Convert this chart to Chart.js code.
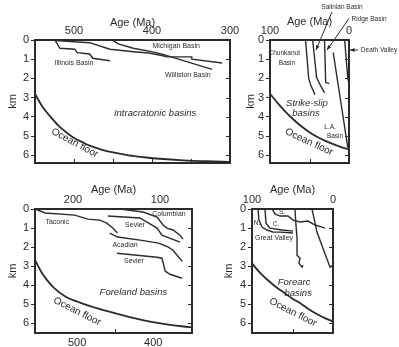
<!DOCTYPE html>
<html>
<head>
<meta charset="utf-8">
<script src="https://cdn.jsdelivr.net/npm/chart.js@4.4.1/dist/chart.umd.min.js"></script>
<style>
  html, body { margin: 0; padding: 0; background: #fff; width: 399px; height: 347px; overflow: hidden; }
  canvas { position: absolute; }
</style>
</head>
<body>
<canvas id="c1" width="240" height="175" style="left:0;top:0"></canvas>
<canvas id="c2" width="161" height="175" style="left:238px;top:0"></canvas>
<canvas id="c3" width="240" height="177" style="left:0;top:170px"></canvas>
<canvas id="c4" width="160" height="177" style="left:216px;top:170px"></canvas>
<script>
// ---- shared ----
const depthTicks = [0, 1, 2, 3, 4, 5, 6];

// ---- panel 1: intracratonic basins (Ma) ----
const p1AgeTicks = [500, 400, 300];
const ocean1Age = [550, 540, 530, 520, 510, 500, 490, 480, 465, 450, 430, 410, 390, 360, 330, 300];
const ocean1Depth = [2.8, 3.5, 4.0, 4.45, 4.8, 5.1, 5.3, 5.5, 5.7, 5.85, 6.0, 6.1, 6.18, 6.26, 6.31, 6.34];
const illinoisAge = [524, 518, 499, 496, 480, 476, 454];
const illinoisDepth = [0.03, 0.43, 0.48, 0.66, 0.73, 0.95, 1.08];
const michiganAge = [524, 480, 454, 424, 404, 386, 381, 349, 349, 310];
const michiganDepth = [0.03, 0.14, 0.48, 0.61, 0.68, 0.82, 0.88, 0.88, 1.0, 1.2];
const willistonAge = [450, 443, 424, 399, 386, 323];
const willistonDepth = [0.03, 0.2, 0.43, 0.62, 0.75, 1.53];

// ---- panel 2: strike-slip basins (Ma) ----
const p2AgeTicks = [100, 0];
const ocean2Age = [100, 90, 80, 70, 60, 50, 40, 30, 20, 10, 0];
const ocean2Depth = [2.8, 3.3, 3.75, 4.15, 4.5, 4.8, 5.05, 5.25, 5.42, 5.57, 5.7];
const chunkanutAge = [55, 51, 48, 43];
const chunkanutDepth = [0, 2.0, 2.4, 2.85];
const salinianAge = [46, 41, 37, 31];
const salinianDepth = [0, 1.95, 2.3, 2.75];
const ridgeAge = [31, 29.5, 25];
const ridgeDepth = [0, 2.2, 2.27];
const laAge = [20, 1.5];
const laDepth = [0.65, 5.6];
const deathValleyAge = [5.5, 1.5, 0];
const deathValleyDepth = [0, 2.0, 2.25];

// ---- panel 3: foreland basins (bottom axis Paleozoic, top axis Mesozoic) ----
const p3TopTicks = [200, 100];
const p3BottomTicks = [500, 400];
const ocean3Age = [555, 547, 540, 530, 515, 500, 490, 470, 447, 425, 404, 380, 360, 349];
const ocean3Depth = [2.7, 3.3, 3.7, 4.15, 4.6, 4.85, 5.0, 5.25, 5.5, 5.72, 5.9, 6.06, 6.16, 6.2];
const taconicAge = [555, 542, 503, 486, 470, 461, 453, 447];
const taconicDepth = [0, 0.21, 0.32, 0.53, 0.58, 0.74, 1.0, 1.26];
const acadianAge = [457, 447, 417, 393, 380, 374, 362];
const acadianDepth = [1.26, 1.47, 1.63, 1.79, 2.0, 2.16, 2.74];
const columbianAge = [146, 119.5, 103.4, 96.5, 92, 85, 77, 73.6];
const columbianDepth = [0, 0.16, 0.42, 0.84, 1.0, 1.1, 1.37, 1.58];
const sevierUpperAge = [160, 123, 103.4, 97.7, 77];
const sevierUpperDepth = [0.37, 0.47, 1.0, 1.37, 1.74];
const sevierLowerAge = [149.4, 103.4, 97.7, 94, 88.5, 74.7];
const sevierLowerDepth = [2.32, 2.53, 2.58, 3.26, 3.42, 3.63];

// ---- panel 4: forearc basins (Ma) ----
const p4AgeTicks = [100, 0];
const ocean4Age = [100, 90, 80, 70, 60, 50, 40, 30, 20, 10, 0];
const ocean4Depth = [2.85, 3.35, 3.75, 4.1, 4.4, 4.7, 4.95, 5.25, 5.5, 5.72, 5.9];
const nAge = [92.6, 91.4, 87.7, 81.5, 74, 65.4, 49.4];
const nDepth = [0, 0.58, 0.95, 1.1, 1.21, 1.21, 1.26];
const cAge = [84, 82.7, 77.8, 63, 49.4];
const cDepth = [0, 0.74, 1.0, 1.1, 1.16];
const sAge = [75.3, 71.6, 65.4, 55.6, 49.4, 40.7, 30.9, 22.2, 13.6, 10];
const sDepth = [0, 0.26, 0.37, 0.37, 0.58, 0.68, 0.63, 0.84, 0.95, 1.0];
const greatValleyAge = [47, 45.7, 44.4, 44.4, 40.7, 42, 38.3, 37];
const greatValleyDepth = [0, 0.84, 1.53, 2.42, 2.58, 2.84, 3.05, 2.95];
const eastAge = [25.9, 19.8, 3.7, 0.3];
const eastDepth = [0, 1.21, 3.05, 2.95];

const FONT = '"Liberation Sans", Arial, Helvetica, sans-serif';
const INK = '#2b2b2b';

function pts(ages, depths) {
  return ages.map((a, i) => ({ x: a, y: depths[i] }));
}

function line(ages, depths, axis, opts) {
  opts = opts || {};
  return {
    data: pts(ages, depths),
    xAxisID: axis || 'x',
    yAxisID: 'y',
    showLine: true,
    borderColor: INK,
    borderWidth: opts.width || 1.4,
    pointRadius: 0,
    tension: opts.smooth ? 0.4 : 0,
    cubicInterpolationMode: opts.smooth ? 'monotone' : 'default',
    fill: false
  };
}

// frame, inner ticks, text labels and arrows
function decorPlugin(p) {
  return {
    id: 'decor',
    afterDraw(chart) {
      const ctx = chart.ctx;
      const a = chart.chartArea;
      const y = chart.scales.y;
      ctx.save();
      ctx.strokeStyle = INK;
      ctx.lineWidth = 2;
      ctx.strokeRect(a.left, a.top, a.right - a.left, a.bottom - a.top);

      ctx.lineWidth = 1;
      (p.rightTicks || []).forEach(v => {
        const py = Math.round(y.getPixelForValue(v)) + 0.5;
        ctx.beginPath(); ctx.moveTo(a.right, py); ctx.lineTo(a.right - 4, py); ctx.stroke();
      });
      (p.bottomTicks || []).forEach(v => {
        const px = Math.round(chart.scales[p.bottomTickAxis || 'x'].getPixelForValue(v)) + 0.5;
        ctx.beginPath(); ctx.moveTo(px, a.bottom); ctx.lineTo(px, a.bottom - 4); ctx.stroke();
      });

      (p.arrows || []).forEach(ar => {
        const xs = chart.scales[ar.axis || 'x'];
        const x0 = xs.getPixelForValue(ar.from[0]), y0 = y.getPixelForValue(ar.from[1]);
        const x1 = xs.getPixelForValue(ar.to[0]), y1 = y.getPixelForValue(ar.to[1]);
        ctx.beginPath(); ctx.moveTo(x0, y0); ctx.lineTo(x1, y1); ctx.stroke();
        const ang = Math.atan2(y1 - y0, x1 - x0);
        ctx.fillStyle = INK;
        ctx.beginPath();
        ctx.moveTo(x1, y1);
        ctx.lineTo(x1 - 5 * Math.cos(ang - 0.4), y1 - 5 * Math.sin(ang - 0.4));
        ctx.lineTo(x1 - 5 * Math.cos(ang + 0.4), y1 - 5 * Math.sin(ang + 0.4));
        ctx.closePath(); ctx.fill();
      });

      ctx.fillStyle = INK;
      ctx.textAlign = 'center';
      ctx.textBaseline = 'middle';
      (p.labels || []).forEach(l => {
        const xs = chart.scales[l.axis || 'x'];
        const px = xs.getPixelForValue(l.x), py = y.getPixelForValue(l.y);
        ctx.save();
        ctx.translate(px, py);
        if (l.angle) ctx.rotate(l.angle * Math.PI / 180);
        ctx.font = (l.italic ? 'italic ' : '') + (l.size || 7) + 'px ' + FONT;
        ctx.fillText(l.text, 0, 0);
        ctx.restore();
      });
      ctx.restore();
    }
  };
}

function makePanel(id, p) {
  const canvas = document.getElementById(id);
  const W = canvas.width, H = canvas.height, A = p.area;
  const tickFont = { family: FONT, size: 11 };
  const scales = {
    y: {
      type: 'linear', position: 'left', reverse: true, min: 0, max: p.yMax,
      afterBuildTicks: s => { s.ticks = depthTicks.map(v => ({ value: v })); },
      afterFit: s => { s.width = A.left; s.paddingTop = s.paddingBottom = 0; },
      ticks: { font: tickFont, color: INK, padding: 2 },
      grid: { drawOnChartArea: false, tickLength: 4, color: INK, lineWidth: 1 },
      border: { display: false },
      title: { display: true, text: 'km', font: { family: FONT, size: 11 }, color: INK, padding: { top: 6, bottom: 0 } }
    }
  };
  p.xAxes.forEach(ax => {
    const top = ax.position === 'top';
    scales[ax.id] = {
      type: 'linear', position: ax.position, reverse: true, min: ax.min, max: ax.max,
      afterBuildTicks: s => { s.ticks = ax.ticks.map(v => ({ value: v })); },
      afterFit: s => {
        s.height = top ? A.top : H - A.bottom;
        s.paddingLeft = s.paddingRight = 0;
      },
      ticks: { font: tickFont, color: INK, padding: top ? 2 : 3, maxRotation: 0 },
      grid: { display: false, drawTicks: false },
      border: { display: false },
      title: {
        display: !!ax.title, text: ax.title || '', font: { family: FONT, size: 11 },
        color: INK, padding: { top: ax.titlePad || 14, bottom: 0 }
      }
    };
  });
  const hasBottom = p.xAxes.some(ax => ax.position === 'bottom');
  return new Chart(canvas, {
    type: 'scatter',
    data: { datasets: p.series },
    options: {
      responsive: false,
      animation: false,
      layout: { padding: { left: 0, top: 0, right: W - A.right, bottom: hasBottom ? 0 : H - A.bottom } },
      plugins: { legend: { display: false }, tooltip: { enabled: false } },
      scales: scales
    },
    plugins: [decorPlugin(p)]
  });
}

// Panel 1
makePanel('c1', {
  area: { left: 35, top: 40, right: 230, bottom: 163 },
  yMax: 6.4,
  xAxes: [{ id: 'x', position: 'top', min: 300, max: 550, ticks: p1AgeTicks, title: 'Age (Ma)', titlePad: 16 }],
  series: [
    line(ocean1Age, ocean1Depth, 'x', { smooth: true, width: 1.8 }),
    line(illinoisAge, illinoisDepth),
    line(michiganAge, michiganDepth),
    line(willistonAge, willistonDepth)
  ],
  rightTicks: [1, 2, 3, 4, 5, 6],
  bottomTicks: [500, 450, 400, 350],
  labels: [
    { text: 'Illinois Basin', x: 500, y: 1.2 },
    { text: 'Michigan Basin', x: 369, y: 0.31 },
    { text: 'Williston Basin', x: 354, y: 1.82 },
    { text: 'Intracratonic basins', x: 396, y: 3.8, size: 9.5, italic: true },
    { text: 'Ocean floor', x: 499, y: 5.36, size: 10, angle: 28 }
  ]
});

// Panel 2
makePanel('c2', {
  area: { left: 32, top: 40, right: 111, bottom: 163 },
  yMax: 6.4,
  xAxes: [{ id: 'x', position: 'top', min: 0, max: 100, ticks: p2AgeTicks, title: 'Age (Ma)', titlePad: 15 }],
  series: [
    line(ocean2Age, ocean2Depth, 'x', { smooth: true, width: 1.8 }),
    line(chunkanutAge, chunkanutDepth),
    line(salinianAge, salinianDepth),
    line(ridgeAge, ridgeDepth),
    line(laAge, laDepth),
    line(deathValleyAge, deathValleyDepth)
  ],
  rightTicks: [1, 2, 3, 4, 5, 6],
  bottomTicks: [50],
  arrows: [
    { from: [21.5, -1.46], to: [41.8, 0.52] },
    { from: [0, -1.12], to: [27.8, 0.52] },
    { from: [-11.4, 0.52], to: [-1.3, 0.52] }
  ],
  labels: [
    { text: 'Salinian Basin', x: 8.9, y: -1.72, size: 6.5 },
    { text: 'Ridge Basin', x: -25.3, y: -1.09, size: 6.5 },
    { text: 'Death Valley', x: -38, y: 0.52, size: 6.5 },
    { text: 'Chunkanut', x: 82, y: 0.68, size: 6.5 },
    { text: 'Basin', x: 78.5, y: 1.2, size: 6.5 },
    { text: 'Strike-slip', x: 53.2, y: 3.28, size: 9.5, italic: true },
    { text: 'basins', x: 54.4, y: 3.8, size: 9.5, italic: true },
    { text: 'L.A.', x: 24, y: 4.53, size: 6.5 },
    { text: 'Basin', x: 17.7, y: 5.0, size: 6.5 },
    { text: 'Ocean floor', x: 50.6, y: 5.31, size: 10, angle: 25 }
  ]
});

// Panel 3
makePanel('c3', {
  area: { left: 35, top: 39, right: 192, bottom: 163 },
  yMax: 6.5,
  xAxes: [
    { id: 'x2', position: 'top', min: 63.2, max: 243.7, ticks: p3TopTicks, title: 'Age (Ma)', titlePad: 13 },
    { id: 'x', position: 'bottom', min: 349, max: 555.3, ticks: p3BottomTicks }
  ],
  series: [
    line(ocean3Age, ocean3Depth, 'x', { smooth: true, width: 1.8 }),
    line(taconicAge, taconicDepth, 'x'),
    line(acadianAge, acadianDepth, 'x'),
    line(columbianAge, columbianDepth, 'x2'),
    line(sevierUpperAge, sevierUpperDepth, 'x2'),
    line(sevierLowerAge, sevierLowerDepth, 'x2')
  ],
  rightTicks: [1, 2, 3, 4, 5, 6],
  bottomTicks: [450],
  labels: [
    { text: 'Taconic', x: 526, y: 0.68 },
    { text: 'Columbian', x: 89.7, y: 0.26, axis: 'x2' },
    { text: 'Sevier', x: 128.7, y: 0.84, axis: 'x2' },
    { text: 'Acadian', x: 437, y: 1.9 },
    { text: 'Sevier', x: 130, y: 2.74, axis: 'x2' },
    { text: 'Foreland basins', x: 426, y: 4.37, size: 9.5, italic: true },
    { text: 'Ocean floor', x: 500, y: 5.37, size: 10, angle: 27 }
  ]
});

// Panel 4
makePanel('c4', {
  area: { left: 36, top: 39, right: 117, bottom: 163 },
  yMax: 6.5,
  xAxes: [{ id: 'x', position: 'top', min: 0, max: 100, ticks: p4AgeTicks, title: 'Age (Ma)', titlePad: 13 }],
  series: [
    line(ocean4Age, ocean4Depth, 'x', { smooth: true, width: 1.8 }),
    line(nAge, nDepth),
    line(cAge, cDepth),
    line(sAge, sDepth),
    line(greatValleyAge, greatValleyDepth),
    line(eastAge, eastDepth)
  ],
  rightTicks: [1, 2, 3, 4, 5, 6],
  bottomTicks: [50],
  labels: [
    { text: 'N.', x: 93.8, y: 0.74, size: 6.5 },
    { text: 'C.', x: 70.4, y: 0.79, size: 6.5 },
    { text: 'S.', x: 63, y: 0.16, size: 6.5 },
    { text: 'Great Valley', x: 72.8, y: 1.53, size: 7 },
    { text: 'Forearc', x: 48, y: 3.84, size: 9.5, italic: true },
    { text: 'basins', x: 43, y: 4.42, size: 9.5, italic: true },
    { text: 'Ocean floor', x: 49.4, y: 5.42, size: 10, angle: 27 }
  ]
});
</script>
</body>
</html>
